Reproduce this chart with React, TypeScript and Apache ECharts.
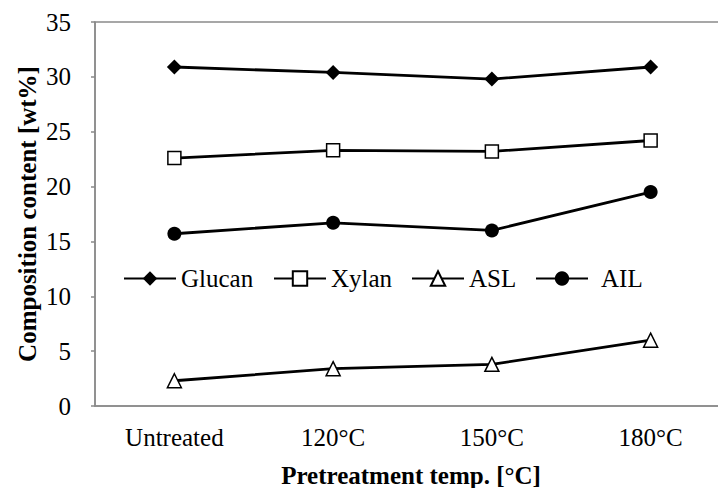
import React, { useEffect, useRef } from "react";
import * as echarts from "echarts";

const categories = ["Untreated", "120°C", "150°C", "180°C"];
const glucan = [30.9, 30.4, 29.8, 30.9];
const xylan = [22.6, 23.3, 23.2, 24.2];
const asl = [2.3, 3.4, 3.8, 6.0];
const ail = [15.7, 16.7, 16.0, 19.5];
const yTicks = { min: 0, max: 35, interval: 5 };

const FONT = "Liberation Serif";
const AXIS = "#8a8a8a";
const FS = 25;

export default function App() {
  const ref = useRef<HTMLDivElement>(null);
  useEffect(() => {
    const chart = echarts.init(ref.current!, null, { renderer: "svg" });
    const mk = (name: string, data: number[], symbol: string, size: number, filled: boolean) => ({
      name,
      type: "line",
      data,
      symbol,
      symbolSize: size,
      showAllSymbol: true,
      lineStyle: { color: "#000", width: 2.8 },
      itemStyle: filled
        ? { color: "#000", borderColor: "#000", borderWidth: 0 }
        : { color: "#fff", borderColor: "#000", borderWidth: 1.5 },
      emphasis: { disabled: true },
    });
    const legendBase = {
      top: 266,
      itemWidth: 52,
      itemHeight: 18,
      textStyle: { fontFamily: FONT, fontSize: FS, color: "#000" },
      selectedMode: false,
      padding: 0,
    };
    chart.setOption({
      animation: false,
      backgroundColor: "#fff",
      textStyle: { fontFamily: FONT },
      grid: {
        left: 95,
        top: 22,
        width: 635,
        bottom: 82,
        show: true,
        borderColor: AXIS,
        borderWidth: 1.5,
        containLabel: false,
        outerBoundsMode: "none",
      },
      legend: [
        { ...legendBase, left: 123, data: ["Glucan"] },
        { ...legendBase, left: 273, data: ["Xylan"] },
        { ...legendBase, left: 411, data: ["ASL"] },
        { ...legendBase, left: 535, data: ["AIL"], textStyle: { ...legendBase.textStyle, padding: [0, 0, 0, 8] } },
      ],
      xAxis: {
        type: "category",
        data: categories,
        boundaryGap: true,
        axisLine: { lineStyle: { color: AXIS, width: 1.5 } },
        axisTick: { inside: true, length: 7, lineStyle: { color: AXIS, width: 1.5 } },
        axisLabel: { fontFamily: FONT, fontSize: FS, color: "#000", margin: 19 },
        splitLine: { show: false },
      },
      yAxis: {
        type: "value",
        min: yTicks.min,
        max: yTicks.max,
        interval: yTicks.interval,
        axisLine: { show: true, lineStyle: { color: AXIS, width: 1.5 } },
        axisTick: { show: true, length: 4, lineStyle: { color: AXIS, width: 1.5 } },
        axisLabel: { fontFamily: FONT, fontSize: FS, color: "#000", margin: 24 },
        splitLine: { show: false },
      },
      graphic: [
        {
          type: "text",
          x: 27,
          y: 214,
          rotation: Math.PI / 2,
          style: {
            text: "Composition content [wt%]",
            fontFamily: FONT,
            fontSize: FS,
            fontWeight: "bold",
            fill: "#000",
            align: "center",
            verticalAlign: "middle",
          },
        },
        {
          type: "text",
          x: 411,
          y: 475,
          style: {
            text: "Pretreatment temp. [°C]",
            fontFamily: FONT,
            fontSize: FS,
            fontWeight: "bold",
            fill: "#000",
            align: "center",
            verticalAlign: "middle",
          },
        },
      ],
      series: [
        mk("Glucan", glucan, "diamond", 15, true),
        mk("Xylan", xylan, "rect", 13, false),
        mk("ASL", asl, "triangle", 14, false),
        mk("AIL", ail, "circle", 14, true),
      ],
    });
    return () => chart.dispose();
  }, []);
  return (
    <div
      ref={ref}
      style={{ position: "absolute", left: 0, top: 0, width: 718, height: 488 }}
    />
  );
}
